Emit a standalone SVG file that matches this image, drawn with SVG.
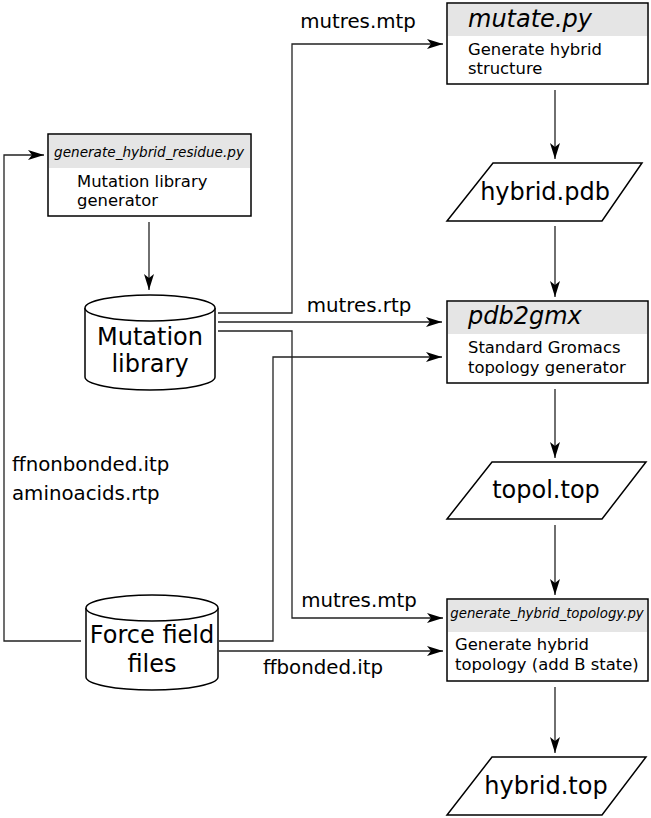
<svg xmlns="http://www.w3.org/2000/svg" width="651" height="818" viewBox="0 0 651 818">
<defs>
<marker id="arr" markerUnits="userSpaceOnUse" markerWidth="16" markerHeight="10" refX="16" refY="5" orient="auto">
<path d="M0,0 L16,5 L0,10 L4,5 Z" fill="#000"/>
</marker>
<style>
.box{fill:#fff;stroke:#000;stroke-width:1.5}
.hdr{fill:#e5e5e5}
.shape{fill:#fff;stroke:#000;stroke-width:1.5}
.c{fill:none;stroke:#222;stroke-width:1.3;marker-end:url(#arr)}
text{font-family:"DejaVu Sans",sans-serif;fill:#000}
.it{font-style:italic}
.big{font-size:24px}
.body{font-size:16.4px}
.lbl{font-size:19.8px}
.mid{text-anchor:middle}
</style>
</defs>
<rect width="651" height="818" fill="#fff"/>

<g id="connectors">
<line class="c" x1="149" y1="222" x2="149" y2="290"/>
<line class="c" x1="555" y1="90" x2="555" y2="159"/>
<line class="c" x1="555" y1="226" x2="555" y2="297"/>
<line class="c" x1="555" y1="389" x2="555" y2="458"/>
<line class="c" x1="555" y1="525" x2="555" y2="595"/>
<line class="c" x1="555" y1="687" x2="555" y2="753"/>
<polyline class="c" points="218,313 292,313 292,44 443,44"/>
<line class="c" x1="218" y1="322" x2="442" y2="322"/>
<polyline class="c" points="218,331 292,331 292,618 443,618"/>
<polyline class="c" points="219,641 273,641 273,357 442,357"/>
<line class="c" x1="219" y1="651" x2="443" y2="651"/>
<polyline class="c" points="81,641 4,641 4,155 44,155"/>
</g>

<g id="labels">
<text class="lbl mid" x="358" y="28">mutres.mtp</text>
<text class="lbl mid" x="359" y="312">mutres.rtp</text>
<text class="lbl mid" x="359" y="607">mutres.mtp</text>
<text class="lbl mid" x="323" y="674">ffbonded.itp</text>
<text class="lbl" x="12" y="471">ffnonbonded.itp</text>
<text class="lbl" x="12" y="500">aminoacids.rtp</text>
</g>

<g id="mutate">
<rect class="box" x="447" y="3" width="201" height="81"/>
<rect class="hdr" x="448" y="4" width="199" height="32"/>
<text class="big it" x="468" y="27">mutate.py</text>
<text class="body" x="468" y="55">Generate hybrid</text>
<text class="body" x="468" y="74">structure</text>
</g>

<g id="residue">
<rect class="box" x="48" y="134" width="203" height="82"/>
<rect class="hdr" x="49" y="135" width="201" height="33"/>
<text class="it" x="149" y="157" font-size="13.6" text-anchor="middle">generate_hybrid_residue.py</text>
<text class="body" x="77" y="187">Mutation library</text>
<text class="body" x="77" y="206">generator</text>
</g>

<g id="mutlib">
<path class="shape" d="M85,308 L85,377 A65,13 0 0 0 215,377 L215,308 A65,13 0 0 0 85,308 Z"/>
<path class="shape" d="M85,308 A65,13 0 0 0 215,308" fill="none"/>
<text class="big mid" x="150" y="345">Mutation</text>
<text class="big mid" x="150" y="372">library</text>
</g>

<g id="hybridpdb">
<polygon class="shape" points="493,163 642,163 602,221 447,221"/>
<text class="big mid" x="545" y="200">hybrid.pdb</text>
</g>

<g id="pdb2gmx">
<rect class="box" x="447" y="301" width="201" height="82"/>
<rect class="hdr" x="448" y="302" width="199" height="32"/>
<text class="big it" x="468" y="324">pdb2gmx</text>
<text class="body" x="468" y="353">Standard Gromacs</text>
<text class="body" x="468" y="373">topology generator</text>
</g>

<g id="topoltop">
<polygon class="shape" points="492,462 646,462 602,519 447,519"/>
<text class="big mid" x="546" y="498">topol.top</text>
</g>

<g id="forcefield">
<path class="shape" d="M86,608 L86,677 A66,13 0 0 0 218,677 L218,608 A66,13 0 0 0 86,608 Z"/>
<path class="shape" d="M86,608 A66,13 0 0 0 218,608" fill="none"/>
<text class="big mid" x="152" y="643">Force field</text>
<text class="big mid" x="152" y="672">files</text>
</g>

<g id="genhybtop">
<rect class="box" x="447" y="599" width="201" height="82"/>
<rect class="hdr" x="448" y="600" width="199" height="32"/>
<text class="it" x="547" y="618" font-size="13.3" text-anchor="middle">generate_hybrid_topology.py</text>
<text class="body" x="455" y="650">Generate hybrid</text>
<text class="body" x="455" y="670">topology (add B state)</text>
</g>

<g id="hybridtop">
<polygon class="shape" points="492,757 646,757 602,815 447,815"/>
<text class="big mid" x="546" y="794">hybrid.top</text>
</g>
</svg>
